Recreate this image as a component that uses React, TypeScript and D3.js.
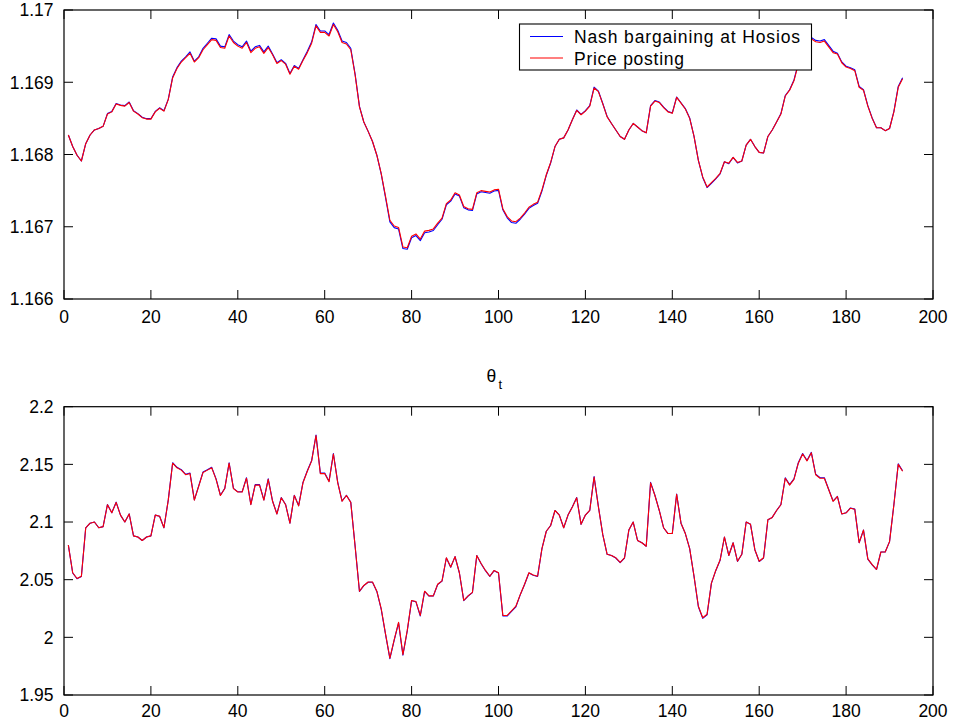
import React from "react";
import * as d3 from "d3";

const W = 953;
const H = 721;

const xTicks = [0, 20, 40, 60, 80, 100, 120, 140, 160, 180, 200];
const topYTicks = [1.166, 1.167, 1.168, 1.169, 1.17];
const topYLabels = ["1.166", "1.167", "1.168", "1.169", "1.17"];
const botYTicks = [1.95, 2.0, 2.05, 2.1, 2.15, 2.2];
const botYLabels = ["1.95", "2", "2.05", "2.1", "2.15", "2.2"];

const seriesNames = ["Nash bargaining at Hosios", "Price posting"];
const seriesColors = ["#0000ff", "#ff0000"];
const titleBottom = "θ";
const titleSub = "t";

// Top panel: Price posting (red)
const topPrice = [
  1.16827, 1.16811, 1.16799, 1.16791, 1.16815, 1.16827, 1.16834, 1.16836, 1.16839, 1.16856,
  1.16859, 1.1687, 1.16868, 1.16867, 1.16872, 1.1686, 1.16856, 1.16851, 1.16849, 1.16849,
  1.16859, 1.16864, 1.1686, 1.16876, 1.16906, 1.16919, 1.16928, 1.16934, 1.1694, 1.16928,
  1.16934, 1.16945, 1.16952, 1.16959, 1.16958, 1.16948, 1.16947, 1.16964, 1.16955, 1.1695,
  1.16947, 1.16955, 1.16941, 1.16947, 1.16949, 1.1694, 1.16948, 1.16938, 1.16926, 1.1693,
  1.16925, 1.16911, 1.16922, 1.16918, 1.1693, 1.16941, 1.16954, 1.16978, 1.16969, 1.16969,
  1.16964, 1.1698, 1.1697, 1.16955, 1.16953, 1.16945, 1.1691, 1.16866, 1.16845, 1.16832,
  1.16818, 1.16799, 1.16774, 1.16742, 1.16709, 1.16701, 1.16699, 1.16672, 1.16671, 1.16687,
  1.1669, 1.16683, 1.16694, 1.16695, 1.16697, 1.16705, 1.16712, 1.16732, 1.16737, 1.16747,
  1.16744, 1.16728, 1.16725, 1.16724, 1.16747, 1.1675, 1.16749, 1.16748, 1.16751, 1.16752,
  1.16725, 1.16714, 1.16708, 1.16707, 1.16712, 1.16719, 1.16727, 1.16731, 1.16734, 1.16751,
  1.16772, 1.16789, 1.16811, 1.16821, 1.16823, 1.16834, 1.16848, 1.16861, 1.16855, 1.1686,
  1.16867, 1.16892, 1.16887, 1.1687, 1.16852, 1.16843, 1.16834, 1.16825, 1.16821, 1.16834,
  1.16843, 1.16838, 1.16833, 1.1683, 1.16867, 1.16874, 1.16872, 1.16865, 1.16859, 1.16857,
  1.16879, 1.16871, 1.16863, 1.1685, 1.16825, 1.16792, 1.16769, 1.16755, 1.16761, 1.16767,
  1.16774, 1.1679, 1.16788, 1.16796, 1.16789, 1.16791, 1.16813, 1.16821, 1.16811, 1.16803,
  1.16802, 1.16825, 1.16834, 1.16845, 1.16856, 1.16881, 1.16889, 1.16902, 1.16925, 1.16942,
  1.16958, 1.1696, 1.16956, 1.16955, 1.16957, 1.16949, 1.16941, 1.16939, 1.16927, 1.16921,
  1.16919, 1.16916, 1.16893, 1.16889, 1.16867, 1.1685, 1.16837, 1.16837, 1.16833, 1.16836,
  1.16859, 1.16893, 1.16905,
];

// Top panel: Nash bargaining at Hosios (blue)
const topNash = [
  1.16827, 1.16811, 1.16799, 1.16791, 1.16815, 1.16827, 1.16834, 1.16836, 1.16839, 1.168566,
  1.168596, 1.168706, 1.168686, 1.168676, 1.168726, 1.168606, 1.168566, 1.168516, 1.168496, 1.168496,
  1.168596, 1.168646, 1.168606, 1.168766, 1.169072, 1.169202, 1.169292, 1.169352, 1.16942, 1.169292,
  1.169352, 1.16947, 1.16954, 1.16961, 1.1696, 1.1695, 1.16949, 1.16966, 1.16957, 1.16952,
  1.16949, 1.16957, 1.16943, 1.16949, 1.16951, 1.16942, 1.1695, 1.169392, 1.169272, 1.169312,
  1.169262, 1.169122, 1.169232, 1.169192, 1.169312, 1.16943, 1.16956, 1.1698, 1.16971, 1.16971,
  1.16966, 1.16982, 1.16972, 1.16957, 1.16955, 1.16947, 1.169112, 1.168666, 1.16845, 1.16832,
  1.16818, 1.16799, 1.167732, 1.167404, 1.167068, 1.166988, 1.166968, 1.166698, 1.166688, 1.166848,
  1.166878, 1.166808, 1.166918, 1.166928, 1.166948, 1.167028, 1.167104, 1.167304, 1.167354, 1.167454,
  1.167424, 1.167264, 1.167234, 1.167224, 1.167454, 1.167484, 1.167474, 1.167464, 1.167494, 1.167504,
  1.167234, 1.167124, 1.167058, 1.167048, 1.167104, 1.167174, 1.167254, 1.167294, 1.167324, 1.167494,
  1.167712, 1.167882, 1.16811, 1.16821, 1.16823, 1.16834, 1.16848, 1.168616, 1.168556, 1.168606,
  1.168676, 1.168932, 1.168876, 1.168706, 1.168526, 1.16843, 1.16834, 1.16825, 1.16821, 1.16834,
  1.16843, 1.16838, 1.16833, 1.1683, 1.168676, 1.168746, 1.168726, 1.168656, 1.168596, 1.168576,
  1.168796, 1.168716, 1.168636, 1.168506, 1.16825, 1.16792, 1.167682, 1.167542, 1.167602, 1.167662,
  1.167732, 1.1679, 1.167872, 1.16796, 1.167882, 1.16791, 1.16813, 1.16821, 1.16811, 1.16803,
  1.16802, 1.16825, 1.16834, 1.16845, 1.168566, 1.168816, 1.168896, 1.169032, 1.169262, 1.16944,
  1.1696, 1.16962, 1.16958, 1.16957, 1.16959, 1.16951, 1.16943, 1.169402, 1.169282, 1.169222,
  1.169202, 1.169172, 1.168942, 1.168896, 1.168676, 1.168506, 1.16837, 1.16837, 1.16833, 1.16836,
  1.168596, 1.168942, 1.169062,
];

// Bottom panel (theta_t): Price posting (red)
const botPrice = [
  2.08, 2.056, 2.051, 2.053, 2.095, 2.099, 2.1, 2.095, 2.096, 2.115,
  2.108, 2.117, 2.106, 2.1, 2.107, 2.088, 2.087, 2.084, 2.087, 2.088,
  2.106, 2.105, 2.095, 2.119, 2.151, 2.147, 2.145, 2.141, 2.142, 2.119,
  2.131, 2.143, 2.145, 2.147, 2.137, 2.123, 2.129, 2.151, 2.129, 2.126,
  2.126, 2.138, 2.115, 2.132, 2.132, 2.119, 2.137, 2.118, 2.107, 2.121,
  2.115, 2.099, 2.123, 2.114, 2.134, 2.144, 2.153, 2.175, 2.142, 2.142,
  2.135, 2.159, 2.134, 2.118, 2.123, 2.117, 2.079, 2.04, 2.045, 2.048,
  2.048, 2.04, 2.025, 2.003, 1.982, 1.998, 2.013, 1.985, 2.006, 2.032,
  2.031, 2.019, 2.04, 2.036, 2.036, 2.046, 2.049, 2.069, 2.061, 2.07,
  2.056, 2.032, 2.036, 2.039, 2.071, 2.064, 2.058, 2.053, 2.058, 2.056,
  2.019, 2.019, 2.023, 2.027, 2.037, 2.046, 2.056, 2.054, 2.053, 2.077,
  2.092, 2.097, 2.11, 2.106, 2.095, 2.106, 2.113, 2.121, 2.098, 2.106,
  2.11, 2.139, 2.113, 2.089, 2.072, 2.071, 2.069, 2.065, 2.069, 2.093,
  2.1, 2.084, 2.082, 2.079, 2.134, 2.123, 2.11, 2.095, 2.09, 2.09,
  2.124, 2.099, 2.09, 2.077, 2.053, 2.027, 2.017, 2.02, 2.047, 2.058,
  2.067, 2.087, 2.071, 2.082, 2.066, 2.072, 2.1, 2.098, 2.076, 2.066,
  2.069, 2.102, 2.104, 2.11, 2.115, 2.138, 2.132, 2.137, 2.151, 2.159,
  2.153, 2.16, 2.141, 2.138, 2.138, 2.128, 2.118, 2.122, 2.107, 2.108,
  2.112, 2.111, 2.082, 2.093, 2.068, 2.063, 2.059, 2.074, 2.074, 2.083,
  2.115, 2.15, 2.144,
];

// Bottom panel (theta_t): Nash bargaining at Hosios (blue)
const botNash = [
  2.08, 2.0558, 2.0508, 2.0528, 2.095, 2.099, 2.1, 2.095, 2.096, 2.1152,
  2.108, 2.1172, 2.106, 2.1, 2.107, 2.088, 2.087, 2.084, 2.087, 2.088,
  2.106, 2.105, 2.095, 2.1192, 2.1514, 2.1474, 2.1454, 2.1414, 2.1424, 2.1192,
  2.1314, 2.1434, 2.1454, 2.1474, 2.1374, 2.1232, 2.1292, 2.1514, 2.1292, 2.1262,
  2.1262, 2.1384, 2.1152, 2.1324, 2.1324, 2.1192, 2.1374, 2.1182, 2.107, 2.1212,
  2.1152, 2.099, 2.1232, 2.1142, 2.1344, 2.1444, 2.1534, 2.1754, 2.1424, 2.1424,
  2.1354, 2.1594, 2.1344, 2.1182, 2.1232, 2.1172, 2.079, 2.0398, 2.0448, 2.0478,
  2.0478, 2.0398, 2.0245, 2.0025, 1.9815, 1.9975, 2.0125, 1.9845, 2.0055, 2.0318,
  2.0308, 2.0185, 2.0398, 2.0358, 2.0358, 2.0458, 2.0488, 2.0688, 2.0608, 2.07,
  2.0558, 2.0318, 2.0358, 2.0388, 2.071, 2.0638, 2.0578, 2.0528, 2.0578, 2.0558,
  2.0185, 2.0185, 2.0225, 2.0265, 2.0368, 2.0458, 2.0558, 2.0538, 2.0528, 2.077,
  2.092, 2.097, 2.11, 2.106, 2.095, 2.106, 2.1132, 2.1212, 2.098, 2.106,
  2.11, 2.1394, 2.1132, 2.089, 2.072, 2.071, 2.0688, 2.0648, 2.0688, 2.093,
  2.1, 2.084, 2.082, 2.079, 2.1344, 2.1232, 2.11, 2.095, 2.09, 2.09,
  2.1242, 2.099, 2.09, 2.077, 2.0528, 2.0265, 2.0165, 2.0195, 2.0468, 2.0578,
  2.0668, 2.087, 2.071, 2.082, 2.0658, 2.072, 2.1, 2.098, 2.076, 2.0658,
  2.0688, 2.102, 2.104, 2.11, 2.1152, 2.1384, 2.1324, 2.1374, 2.1514, 2.1594,
  2.1534, 2.1604, 2.1414, 2.1384, 2.1384, 2.1282, 2.1182, 2.1222, 2.107, 2.108,
  2.1122, 2.1112, 2.082, 2.093, 2.0678, 2.0628, 2.0588, 2.074, 2.074, 2.083,
  2.1152, 2.1504, 2.1444,
];

const FONT = "'Liberation Sans', Arial, Helvetica, sans-serif";
const FS = 17.5;
const TICK = 9;

type PanelProps = {
  top: number;
  bottom: number;
  yDomain: [number, number];
  yTicks: number[];
  yLabels: string[];
  series: number[][];
  labelOffset: number;
};

const LEFT = 64;
const RIGHT = 933;

function Panel({ top, bottom, yDomain, yTicks, yLabels, series, labelOffset }: PanelProps) {
  const x = d3.scaleLinear().domain([0, 200]).range([LEFT, RIGHT]);
  const y = d3.scaleLinear().domain(yDomain).range([bottom, top]);
  const line = d3
    .line<number>()
    .x((_, i) => x(i + 1))
    .y((d) => y(d));
  return (
    <g>
      {series.map((s, k) => (
        <path
          key={k}
          d={line(s) || ""}
          fill="none"
          stroke={seriesColors[k]}
          strokeWidth={1.1}
          strokeLinejoin="round"
        />
      ))}
      <rect
        x={LEFT}
        y={top}
        width={RIGHT - LEFT}
        height={bottom - top}
        fill="none"
        stroke="#000"
        strokeWidth={1.2}
      />
      {xTicks.map((t) => (
        <g key={"x" + t}>
          <line x1={x(t)} x2={x(t)} y1={bottom} y2={bottom - TICK} stroke="#000" strokeWidth={1} />
          <line x1={x(t)} x2={x(t)} y1={top} y2={top + TICK} stroke="#000" strokeWidth={1} />
          <text
            x={x(t)}
            y={bottom + labelOffset}
            textAnchor="middle"
            fontFamily={FONT}
            fontSize={FS}
            fill="#000"
          >
            {t}
          </text>
        </g>
      ))}
      {yTicks.map((t, i) => (
        <g key={"y" + t}>
          <line x1={LEFT} x2={LEFT + TICK} y1={y(t)} y2={y(t)} stroke="#000" strokeWidth={1} />
          <line x1={RIGHT} x2={RIGHT - TICK} y1={y(t)} y2={y(t)} stroke="#000" strokeWidth={1} />
          <text
            x={LEFT - 10.5}
            y={y(t) + 6.3}
            textAnchor="end"
            fontFamily={FONT}
            fontSize={FS}
            fill="#000"
          >
            {yLabels[i]}
          </text>
        </g>
      ))}
    </g>
  );
}

export default function App() {
  return (
    <svg
      width={W}
      height={H}
      viewBox={`0 0 ${W} ${H}`}
      style={{ position: "absolute", left: 0, top: 0, background: "#fff" }}
    >
      <rect x={0} y={0} width={W} height={H} fill="#fff" />
      <Panel
        top={10}
        bottom={299}
        yDomain={[1.166, 1.17]}
        yTicks={topYTicks}
        yLabels={topYLabels}
        series={[topNash, topPrice]}
        labelOffset={24}
      />
      {/* legend */}
      <g>
        <rect x={519.5} y={24} width={292} height={46} fill="#fff" stroke="#000" strokeWidth={1.1} />
        {seriesNames.map((name, k) => (
          <g key={name}>
            <line
              x1={530}
              x2={563}
              y1={36.5 + k * 21.5}
              y2={36.5 + k * 21.5}
              stroke={seriesColors[k]}
              strokeWidth={1.1}
            />
            <text
              x={574}
              y={42.5 + k * 22.5}
              fontFamily={FONT}
              fontSize={FS}
              fill="#000"
              textLength={k === 0 ? 226 : 110}
              lengthAdjust="spacing"
            >
              {name}
            </text>
          </g>
        ))}
      </g>
      <Panel
        top={406.7}
        bottom={695}
        yDomain={[1.95, 2.2]}
        yTicks={botYTicks}
        yLabels={botYLabels}
        series={[botNash, botPrice]}
        labelOffset={22}
      />
      <text x={486.5} y={382} fontFamily={FONT} fontSize={FS} fill="#000">
        {titleBottom}
        <tspan x={498.5} y={389} fontSize={13}>
          {titleSub}
        </tspan>
      </text>
    </svg>
  );
}
